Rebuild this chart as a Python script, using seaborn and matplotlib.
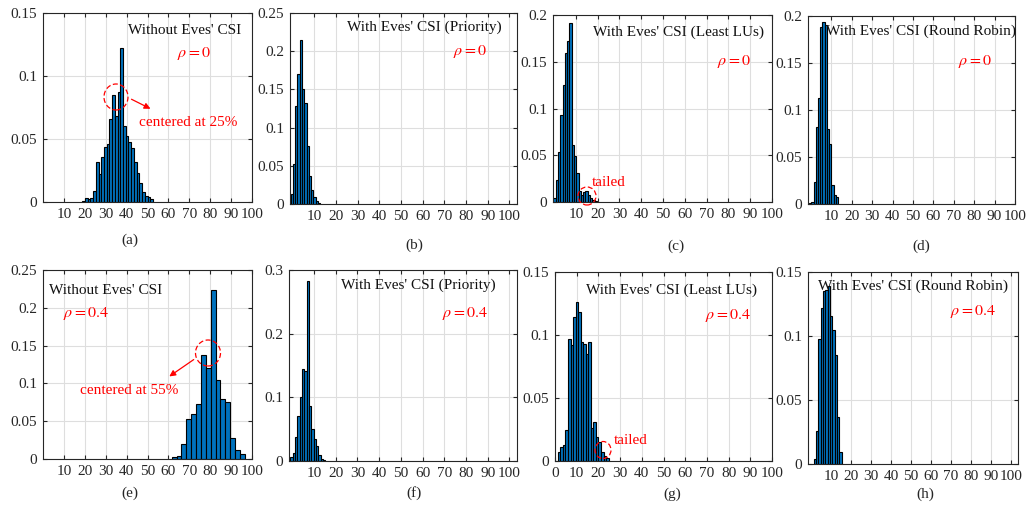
import numpy as np
import pandas as pd
import matplotlib
matplotlib.use("Agg")
import matplotlib.pyplot as plt
from matplotlib.patches import Ellipse, FancyArrowPatch
import seaborn as sns

# bin start, bin width and bar heights
a_start, a_width = 18.8, 1.3
a_heights = [0.001, 0.003, 0.002, 0.003, 0.009, 0.032, 0.022, 0.036, 0.044, 0.046, 0.066, 0.085, 0.068,
             0.087, 0.122, 0.060, 0.052, 0.048, 0.043, 0.032, 0.023, 0.015, 0.008, 0.005, 0.004, 0.002]
b_start, b_width = -0.9, 1.05
b_heights = [0.013, 0.052, 0.128, 0.170, 0.215, 0.150, 0.132, 0.076, 0.037, 0.018, 0.009, 0.004, 0.001]
c_start, c_width = -0.3, 1.05
c_heights = [0.004, 0.024, 0.054, 0.093, 0.125, 0.159, 0.172, 0.191, 0.061, 0.049, 0.031, 0.012, 0.008,
             0.011, 0.012, 0.007, 0.004, 0.002, 0.001]
d_start, d_width = -1.0, 1.1
d_heights = [0.001, 0.002, 0.023, 0.082, 0.113, 0.188, 0.194, 0.190, 0.080, 0.064, 0.020, 0.010, 0.007]
e_start, e_width = 61.6, 2.33
e_heights = [0.0026, 0.0045, 0.020, 0.053, 0.060, 0.073, 0.138, 0.120, 0.223, 0.105, 0.080, 0.075,
             0.028, 0.012, 0.007]
f_start, f_width = -0.9, 1.08
f_heights = [0.006, 0.013, 0.037, 0.070, 0.100, 0.145, 0.141, 0.282, 0.086, 0.050, 0.035, 0.024,
             0.010, 0.003, 0.002]
g_start, g_width = 1.3, 1.17
g_heights = [0.0074, 0.0114, 0.0127, 0.0246, 0.097, 0.092, 0.114, 0.126, 0.118, 0.0945, 0.0925,
             0.085, 0.0945, 0.026, 0.031, 0.019, 0.015, 0.0074, 0.004, 0.002]
h_start, h_width = 1.3, 1.17
h_heights = [0.004, 0.026, 0.098, 0.122, 0.135, 0.136, 0.139, 0.116, 0.105, 0.085, 0.037, 0.0094]

titles = ["Without Eves' CSI", "With Eves' CSI (Priority)", "With Eves' CSI (Least LUs)",
          "With Eves' CSI (Round Robin)"]
rho_labels = [r"$\rho = 0$", r"$\rho = 0.4$"]
sub_labels = ["(a)", "(b)", "(c)", "(d)", "(e)", "(f)", "(g)", "(h)"]
y_tops = [0.15, 0.25, 0.2, 0.2, 0.25, 0.3, 0.15, 0.15]
y_steps = [0.05, 0.05, 0.05, 0.05, 0.05, 0.1, 0.05, 0.05]

W, H = 1033, 505
sns.set_style("ticks")
plt.rcParams["font.family"] = ["Liberation Serif", "DejaVu Serif"]
plt.rcParams["mathtext.fontset"] = "stix"
plt.rcParams["font.size"] = 11

fig = plt.figure(figsize=(W / 100, H / 100), dpi=100)


def fx(x):
    return x / W


def fy(y):
    return 1 - y / H


def add_ax(l, r, t, b):
    return fig.add_axes([fx(l), fy(b), (r - l) / W, (b - t) / H])


# pixel boxes of the axes (left, right, top, bottom)
boxes = [(43, 252, 13, 202), (290, 517, 13, 204), (553, 772, 15, 202), (808, 1015, 16, 204),
         (43, 252, 270, 459), (289, 517, 270, 461), (555, 772, 272, 461), (808, 1018, 272, 464)]
xlims = [(0, 100), (-1.2, 103.5), (-0.5, 100), (-1.5, 100),
         (0, 100), (-1.5, 103.5), (0, 100), (-1.6, 103.6)]
data = [(a_start, a_width, a_heights), (b_start, b_width, b_heights), (c_start, c_width, c_heights),
        (d_start, d_width, d_heights), (e_start, e_width, e_heights), (f_start, f_width, f_heights),
        (g_start, g_width, g_heights), (h_start, h_width, h_heights)]

axes = []
for i, (box, (start, width, heights)) in enumerate(zip(boxes, data)):
    ax = add_ax(*box)
    n = len(heights)
    edges = start + width * np.arange(n + 1)
    df = pd.DataFrame({"center": start + width * (np.arange(n) + 0.5), "freq": heights})
    sns.histplot(data=df, x="center", weights="freq", bins=list(edges), ax=ax, color="#0072BD",
                 edgecolor="black", linewidth=0.8, alpha=1.0)
    ax.set_xlim(*xlims[i])
    ax.set_ylim(0, y_tops[i])
    xt = list(range(0 if i == 6 else 10, 101, 10))
    ax.set_xticks(xt)
    yt = np.round(np.arange(0, y_tops[i] + 1e-9, y_steps[i]), 2)
    ax.set_yticks(yt)
    ax.set_yticklabels([("%g" % v) for v in yt])
    ax.set_xlabel("")
    ax.set_ylabel("")
    ax.grid(True, color="#dedede", linewidth=0.8)
    ax.set_axisbelow(True)
    ax.tick_params(direction="in", length=3, top=True, right=True, colors="#262626",
                   labelsize=11, pad=4)
    for s in ax.spines.values():
        s.set_color("#262626")
        s.set_linewidth(0.8)
    axes.append(ax)

red = "#ff0000"
# in-panel titles (left x, centre y) in pixels
title_pos = [(128, 31, 0), (347, 27, 1), (593, 32, 2), (826, 31, 3),
             (49, 291, 0), (341, 285, 1), (586, 290, 2), (818, 286, 3)]
for x, y, k in title_pos:
    fig.text(fx(x), fy(y), titles[k], ha="left", va="center", fontsize=11, color="#111111")

rho_pos = [(177, 53, 0), (453, 52, 0), (717, 62, 0), (958, 62, 0),
           (63, 313, 1), (442, 313, 1), (705, 315, 1), (950, 311, 1)]
for x, y, k in rho_pos:
    fig.text(fx(x), fy(y), rho_labels[k], ha="left", va="center", fontsize=11.5, color=red)

sub_pos = [(130, 240), (414, 245), (676, 246), (921, 246),
           (130, 493), (414, 493), (672, 494), (925, 494)]
for (x, y), lab in zip(sub_pos, sub_labels):
    fig.text(fx(x), fy(y), lab, ha="center", va="center", fontsize=11)

# red dashed circles
for cx, cy, w, h in [(116, 97, 24, 26), (587, 196, 18, 18), (208, 353, 25, 26), (603, 450, 16, 17)]:
    fig.patches.append(Ellipse((fx(cx), fy(cy)), w / W, h / H, transform=fig.transFigure,
                               fill=False, edgecolor=red, linestyle=(0, (4, 2)), linewidth=0.9))

# arrows and notes
for p0, p1 in [((129, 98), (153, 110)), ((196, 358), (167, 378))]:
    fig.patches.append(FancyArrowPatch((fx(p0[0]), fy(p0[1])), (fx(p1[0]), fy(p1[1])),
                                       transform=fig.transFigure, color=red,
                                       arrowstyle="-|>", mutation_scale=9, linewidth=0.9))
fig.text(fx(139), fy(122), "centered at 25%", ha="left", va="center", fontsize=11, color=red)
fig.text(fx(80), fy(391), "centered at 55%", ha="left", va="center", fontsize=11, color=red)
fig.text(fx(592), fy(182), "tailed", ha="left", va="center", fontsize=11, color=red)
fig.text(fx(614), fy(441), "tailed", ha="left", va="center", fontsize=11, color=red)

fig.savefig("out.png", dpi=100)
